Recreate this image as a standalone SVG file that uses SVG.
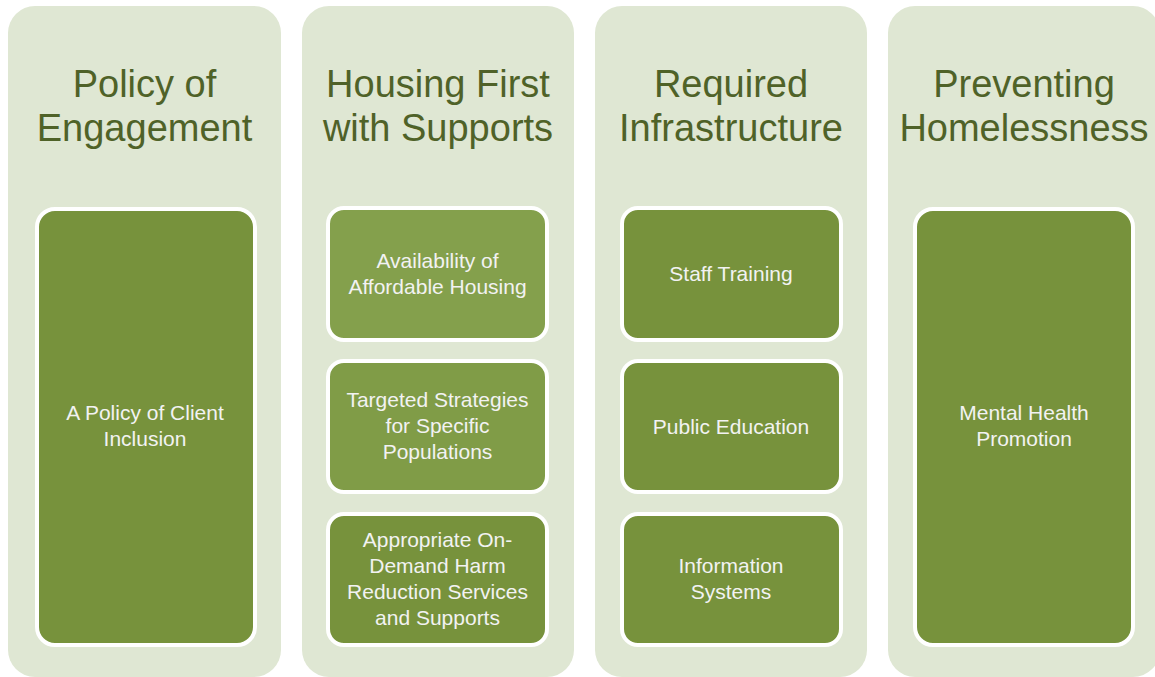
<svg xmlns="http://www.w3.org/2000/svg" width="1155" height="677" viewBox="0 0 1155 677">
<style>
.col{fill:#DFE7D3}
.box{stroke:#FFFFFF;stroke-width:4}
.dark{fill:#77923C}
.mid{fill:#809C47}
.light{fill:#84A04C}
.title{font-family:"Liberation Sans",Arial,sans-serif;font-size:38px;fill:#4F6228;text-anchor:middle}
.lbl{font-family:"Liberation Sans",Arial,sans-serif;font-size:21px;fill:#F2F2F2;text-anchor:middle}
</style>
<rect width="1155" height="677" fill="#FFFFFF"/>
<g id="col-engagement">
<rect class="col" x="8" y="6" width="273" height="671" rx="27"/>
<text class="title" x="144.5" y="97">Policy of</text>
<text class="title" x="144.5" y="141">Engagement</text>
</g>
<g id="node-client-inclusion">
<rect class="box dark" x="37" y="209" width="218" height="436" rx="18"/>
<text class="lbl" x="145" y="420">A Policy of Client</text>
<text class="lbl" x="145" y="446">Inclusion</text>
</g>
<g id="col-housing">
<rect class="col" x="302" y="6" width="272" height="671" rx="27"/>
<text class="title" x="438" y="97">Housing First</text>
<text class="title" x="438" y="141">with Supports</text>
</g>
<g id="node-affordable">
<rect class="box light" x="328" y="208" width="219" height="132" rx="16"/>
<text class="lbl" x="437.5" y="268">Availability of</text>
<text class="lbl" x="437.5" y="294">Affordable Housing</text>
</g>
<g id="node-targeted">
<rect class="box mid" x="328" y="361" width="219" height="131" rx="16"/>
<text class="lbl" x="437.5" y="407">Targeted Strategies</text>
<text class="lbl" x="437.5" y="433">for Specific</text>
<text class="lbl" x="437.5" y="459">Populations</text>
</g>
<g id="node-harm">
<rect class="box dark" x="328" y="514" width="219" height="131" rx="16"/>
<text class="lbl" x="437.5" y="547">Appropriate On-</text>
<text class="lbl" x="437.5" y="573">Demand Harm</text>
<text class="lbl" x="437.5" y="599">Reduction Services</text>
<text class="lbl" x="437.5" y="625">and Supports</text>
</g>
<g id="col-infrastructure">
<rect class="col" x="595" y="6" width="272" height="671" rx="27"/>
<text class="title" x="731" y="97">Required</text>
<text class="title" x="731" y="141">Infrastructure</text>
</g>
<g id="node-staff">
<rect class="box dark" x="622" y="208" width="219" height="132" rx="16"/>
<text class="lbl" x="731" y="281">Staff Training</text>
</g>
<g id="node-public">
<rect class="box dark" x="622" y="361" width="219" height="131" rx="16"/>
<text class="lbl" x="731" y="434">Public Education</text>
</g>
<g id="node-info">
<rect class="box dark" x="622" y="514" width="219" height="131" rx="16"/>
<text class="lbl" x="731" y="573">Information</text>
<text class="lbl" x="731" y="599">Systems</text>
</g>
<g id="col-preventing">
<rect class="col" x="888" y="6" width="272" height="671" rx="27"/>
<text class="title" x="1024" y="97">Preventing</text>
<text class="title" x="1024" y="141">Homelessness</text>
</g>
<g id="node-mental">
<rect class="box dark" x="915" y="209" width="218" height="436" rx="18"/>
<text class="lbl" x="1024" y="420">Mental Health</text>
<text class="lbl" x="1024" y="446">Promotion</text>
</g>
<g id="connectors"></g>
</svg>
